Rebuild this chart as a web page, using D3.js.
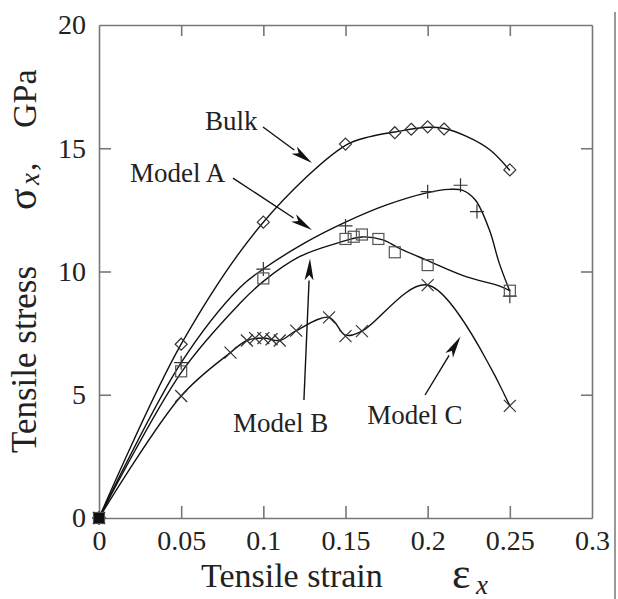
<!DOCTYPE html>
<html><head><meta charset="utf-8">
<script src="https://cdn.jsdelivr.net/npm/d3@7"></script>
<style>
html,body{margin:0;padding:0;background:#fff;}
svg{display:block;}
text{font-family:"Liberation Serif","Times New Roman",serif;fill:#222;}
</style></head>
<body>
<svg id="chart" width="618" height="599"></svg>
<script>
// ---- data ----
const xTicks = [0, 0.05, 0.1, 0.15, 0.2, 0.25, 0.3];
const yTicks = [0, 5, 10, 15, 20];

// markers
const bulkPts = [[0,0],[0.05,7.05],[0.1,12.0],[0.15,15.17],[0.18,15.63],[0.19,15.77],[0.2,15.87],[0.21,15.78],[0.25,14.12]];
const modelAPts = [[0,0],[0.05,6.3],[0.1,10.1],[0.15,11.85],[0.2,13.24],[0.22,13.5],[0.23,12.43],[0.25,9.0]];
const modelBPts = [[0,0],[0.05,5.95],[0.1,9.72],[0.15,11.32],[0.155,11.41],[0.16,11.5],[0.17,11.32],[0.18,10.78],[0.2,10.26],[0.25,9.22]];
const modelCPts = [[0,0],[0.05,4.95],[0.08,6.71],[0.09,7.2],[0.095,7.3],[0.1,7.3],[0.105,7.25],[0.11,7.2],[0.12,7.6],[0.14,8.14],[0.15,7.38],[0.16,7.58],[0.2,9.45],[0.25,4.55]];

// fitted curves
const bulkCurve = [[0,0],[0.05,7.05],[0.1,12.0],[0.15,15.12],[0.165,15.47],[0.18,15.66],[0.2,15.85],[0.21,15.8],[0.224,15.47],[0.238,14.93],[0.25,14.1]];
const modelACurve = [[0,0],[0.05,6.3],[0.0858,9.35],[0.1,10.1],[0.125,11.15],[0.15,12.0],[0.175,12.7],[0.2,13.2],[0.213,13.33],[0.221,13.3],[0.229,12.9],[0.2375,11.7],[0.2435,10.35],[0.25,9.2]];
const modelBCurve = [[0,0],[0.05,5.9],[0.0858,8.71],[0.1,9.6],[0.122,10.6],[0.145,11.15],[0.16,11.4],[0.1727,11.28],[0.1828,10.94],[0.199,10.47],[0.2233,9.79],[0.2435,9.42],[0.25,9.22]];
const modelCCurve = [[0,0],[0.05,4.95],[0.08,6.71],[0.09,7.2],[0.1,7.3],[0.11,7.2],[0.12,7.6],[0.14,8.14],[0.15,7.42],[0.16,7.58],[0.2,9.45],[0.25,4.55]];

// annotation labels: text, label anchor (data), arrow from -> to (data)
const labelTexts = ["Bulk", "Model A", "Model B", "Model C"];
const labelAt   = [[0.0645,15.74],[0.0189,13.64],[0.0815,3.5],[0.1633,3.81]];
const arrowFrom = [[0.0998,15.86],[0.0815,13.79],[0.1247,4.79],[0.1984,4.99]];
const arrowTo   = [[0.1296,14.40],[0.1296,11.68],[0.1284,10.53],[0.22,7.36]];

// ---- layout ----
const svg = d3.select("#chart");
const L = 99, R = 592, T = 25, B = 518;
const x = d3.scaleLinear().domain([0,0.3]).range([L,R]);
const y = d3.scaleLinear().domain([0,20]).range([B,T]);
const frameColor = "#777";

// right-side scan border line
svg.append("line").attr("x1",615).attr("x2",615).attr("y1",12).attr("y2",599)
  .attr("stroke","#999").attr("stroke-width",2);

// axes
const fmt = d => String(d);
const gB = svg.append("g").attr("transform",`translate(0,${B})`)
  .call(d3.axisBottom(x).tickValues(xTicks).tickFormat(fmt).tickSizeInner(-12).tickSizeOuter(0).tickPadding(12));
const gT = svg.append("g").attr("transform",`translate(0,${T})`)
  .call(d3.axisTop(x).tickValues(xTicks.slice(1,-1)).tickFormat("").tickSizeInner(-11).tickSizeOuter(0));
const gL = svg.append("g").attr("transform",`translate(${L},0)`)
  .call(d3.axisLeft(y).tickValues(yTicks).tickFormat(fmt).tickSizeInner(-12).tickSizeOuter(0).tickPadding(13));
const gR = svg.append("g").attr("transform",`translate(${R},0)`)
  .call(d3.axisRight(y).tickValues(yTicks.slice(1,-1)).tickFormat("").tickSizeInner(-11).tickSizeOuter(0));
[gB,gT,gL,gR].forEach(g=>{
  g.select(".domain").attr("stroke",frameColor).attr("stroke-width",1.6);
  g.selectAll(".tick line").attr("stroke",frameColor).attr("stroke-width",1.6);
  g.selectAll(".tick text").attr("font-family","Liberation Serif, serif").attr("font-size",28).attr("fill","#333");
});
// hide ticks at the corners for left/bottom
gB.selectAll(".tick").filter(d=>d===0||d===0.3).select("line").remove();
gL.selectAll(".tick").filter(d=>d===0||d===20).select("line").remove();

// curves
const line = d3.line().x(d=>x(d[0])).y(d=>y(d[1])).curve(d3.curveCatmullRom.alpha(0.5));
[bulkCurve, modelACurve, modelBCurve, modelCCurve].forEach(c=>{
  svg.append("path").attr("d",line(c)).attr("fill","none").attr("stroke","#111").attr("stroke-width",1.4);
});

// markers
const mk = svg.append("g").attr("fill","none").attr("stroke","#333").attr("stroke-width",1.2);
bulkPts.forEach(d=>{
  const cx=x(d[0]), cy=y(d[1]), r=6;
  mk.append("path").attr("d",`M${cx},${cy-r}L${cx+r},${cy}L${cx},${cy+r}L${cx-r},${cy}Z`);
});
modelAPts.forEach(d=>{
  const cx=x(d[0]), cy=y(d[1]), r=7;
  mk.append("path").attr("d",`M${cx-r},${cy}H${cx+r}M${cx},${cy-r}V${cy+r}`);
});
modelBPts.forEach(d=>{
  const cx=x(d[0]), cy=y(d[1]), r=5.5;
  mk.append("rect").attr("x",cx-r).attr("y",cy-r).attr("width",2*r).attr("height",2*r).attr("stroke","#555");
});
modelCPts.forEach(d=>{
  const cx=x(d[0]), cy=y(d[1]), r=6;
  mk.append("path").attr("d",`M${cx-r},${cy-r}L${cx+r},${cy+r}M${cx-r},${cy+r}L${cx+r},${cy-r}`);
});
// overlapping markers at origin form a black blob
svg.append("rect").attr("x",x(0)-5).attr("y",y(0)-5).attr("width",10).attr("height",10).attr("fill","#111");

// annotations
labelTexts.forEach((t,i)=>{
  svg.append("text").attr("x",x(labelAt[i][0])).attr("y",y(labelAt[i][1]))
    .attr("font-size",27).attr("fill","#222").text(t);
  const x1=x(arrowFrom[i][0]), y1=y(arrowFrom[i][1]), x2=x(arrowTo[i][0]), y2=y(arrowTo[i][1]);
  const ang=Math.atan2(y2-y1,x2-x1), len=22, hw=4.5;
  const bx=x2-len*Math.cos(ang), by=y2-len*Math.sin(ang);
  svg.append("line").attr("x1",x1).attr("y1",y1).attr("x2",bx).attr("y2",by)
    .attr("stroke","#111").attr("stroke-width",1.4);
  const px=-Math.sin(ang), py=Math.cos(ang);
  svg.append("path").attr("d",`M${x2},${y2}L${bx+hw*px},${by+hw*py}L${bx+len*0.25*Math.cos(ang)},${by+len*0.25*Math.sin(ang)}L${bx-hw*px},${by-hw*py}Z`)
    .attr("fill","#111");
});

// axis titles
svg.append("text").attr("x",201).attr("y",587).attr("font-size",34).text("Tensile strain");
svg.append("text").attr("x",452).attr("y",588).attr("font-size",44).text("ε");
svg.append("text").attr("x",476).attr("y",594).attr("font-size",27).attr("font-style","italic").text("x");

const yt = svg.append("g").attr("transform","translate(36,453) rotate(-90)");
yt.append("text").attr("x",0).attr("y",0).attr("font-size",35).text("Tensile stress");
yt.append("text").attr("x",243).attr("y",0).attr("font-size",40).text("σ");
yt.append("text").attr("x",268).attr("y",3).attr("font-size",27).attr("font-style","italic").text("x");
yt.append("text").attr("x",282).attr("y",0).attr("font-size",34).text(",");
yt.append("text").attr("x",325).attr("y",0).attr("font-size",34).text("GPa");
</script>
</body></html>
